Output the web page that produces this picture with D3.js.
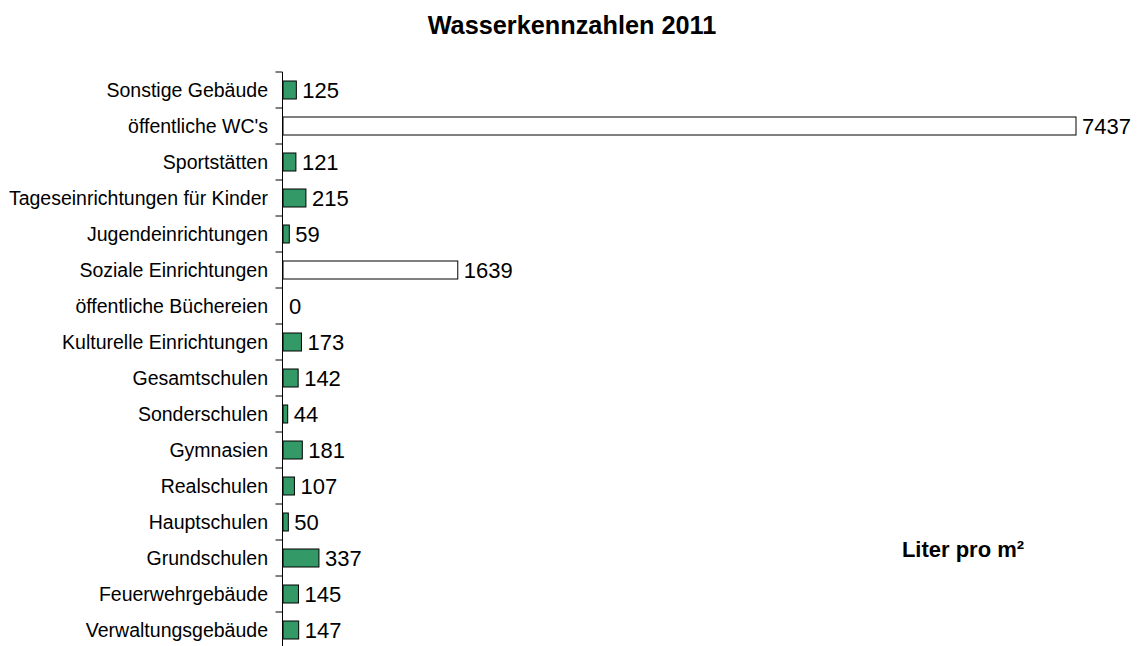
<!DOCTYPE html>
<html>
<head>
<meta charset="utf-8">
<script src="https://cdn.jsdelivr.net/npm/d3@7"></script>
<style>
  body { margin: 0; background: #fff; }
  text { font-family: "Liberation Sans", Arial, sans-serif; fill: #000; }
</style>
</head>
<body>
<div id="chart"></div>
<script>
// Wasserkennzahlen 2011 - Liter pro m², top to bottom as in the picture
var categories = [
  "Sonstige Gebäude", "öffentliche WC's", "Sportstätten", "Tageseinrichtungen für Kinder",
  "Jugendeinrichtungen", "Soziale Einrichtungen", "öffentliche Büchereien",
  "Kulturelle Einrichtungen", "Gesamtschulen", "Sonderschulen", "Gymnasien",
  "Realschulen", "Hauptschulen", "Grundschulen", "Feuerwehrgebäude", "Verwaltungsgebäude"
];
var values = [125, 7437, 121, 215, 59, 1639, 0, 173, 142, 44, 181, 107, 50, 337, 145, 147];
// bars drawn without fill (outliers)
var hollow = ["öffentliche WC's", "Soziale Einrichtungen"];

var width = 1142, height = 646;
var svg = d3.select("#chart").append("svg")
  .attr("width", width)
  .attr("height", height);

var x = d3.scaleLinear().domain([0, 7437]).range([283, 1076]);
var y = d3.scaleBand().domain(categories).range([72, 648]).paddingInner(0.5).paddingOuter(0.25);

var data = categories.map((c, i) => ({cat: c, val: values[i]}));

// bars
svg.append("g").selectAll("rect")
  .data(data.filter(d => d.val > 0))
  .enter().append("rect")
    .attr("x", x(0))
    .attr("y", d => y(d.cat))
    .attr("width", d => x(d.val) - x(0))
    .attr("height", y.bandwidth())
    .attr("fill", d => hollow.includes(d.cat) ? "#fff" : "#339966")
    .attr("stroke", "#000")
    .attr("stroke-width", 1);

// value labels
svg.append("g").selectAll("text")
  .data(data)
  .enter().append("text")
    .attr("x", d => x(d.val) + 6)
    .attr("y", d => y(d.cat) + y.bandwidth() / 2)
    .attr("dy", "0.36em")
    .style("font-size", "22px")
    .text(d => d.val);

// category axis with ticks between categories
var axisX = x(0) - 0.5;
svg.append("line")
  .attr("x1", axisX).attr("x2", axisX)
  .attr("y1", 72).attr("y2", 648)
  .attr("stroke", "#000");

var step = y.step();
svg.append("g").selectAll("line")
  .data(d3.range(categories.length + 1))
  .enter().append("line")
    .attr("x1", axisX - 7).attr("x2", axisX)
    .attr("y1", i => 72 + i * step)
    .attr("y2", i => 72 + i * step)
    .attr("stroke", "#000");

svg.append("g").selectAll("text")
  .data(categories)
  .enter().append("text")
    .attr("x", 268)
    .attr("y", d => y(d) + y.bandwidth() / 2)
    .attr("dy", "0.36em")
    .attr("text-anchor", "end")
    .style("font-size", "19.5px")
    .text(d => d);

// title and unit
svg.append("text")
  .attr("x", 572).attr("y", 34)
  .attr("text-anchor", "middle")
  .style("font-size", "25.3px")
  .style("font-weight", "bold")
  .text("Wasserkennzahlen 2011");

svg.append("text")
  .attr("x", 963).attr("y", 557)
  .attr("text-anchor", "middle")
  .style("font-size", "22px")
  .style("font-weight", "bold")
  .text("Liter pro m²");
</script>
</body>
</html>
